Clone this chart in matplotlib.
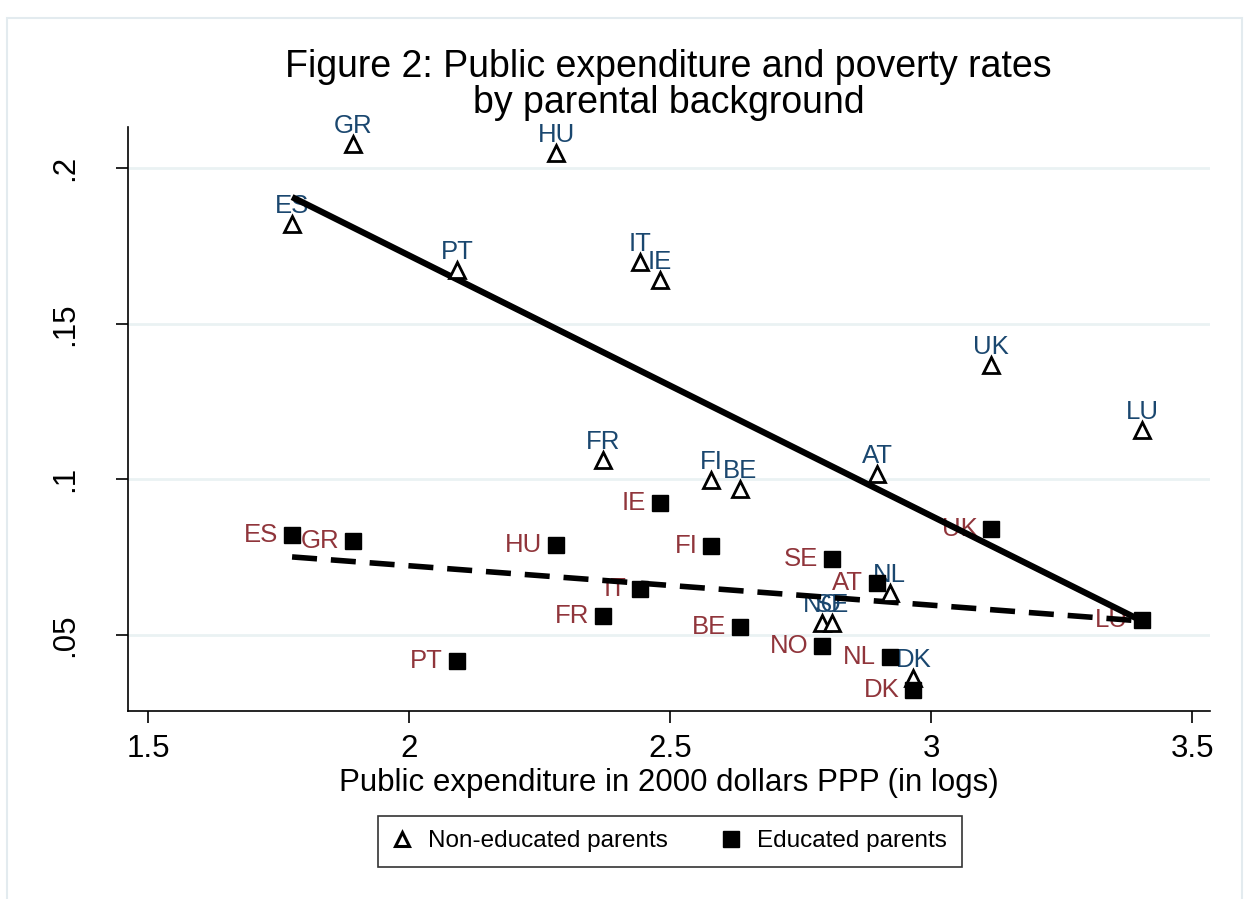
import matplotlib.pyplot as plt
from matplotlib.patches import Rectangle
from matplotlib.lines import Line2D

plt.rcParams['font.family'] = ['Liberation Sans', 'DejaVu Sans']

# country codes
noned_codes = ['GR', 'HU', 'ES', 'PT', 'IT', 'IE', 'UK', 'LU', 'FR', 'FI',
               'BE', 'AT', 'NL', 'NO', 'SE', 'DK']
noned_x = [1.893, 2.282, 1.776, 2.092, 2.443, 2.481, 3.115, 3.404, 2.372,
           2.579, 2.634, 2.897, 2.921, 2.791, 2.810, 2.966]
noned_y = [0.2077, 0.2048, 0.1820, 0.1672, 0.1698, 0.1640, 0.1367, 0.1159,
           0.1062, 0.0998, 0.0969, 0.1017, 0.0635, 0.0539, 0.0539, 0.0362]

edu_codes = ['ES', 'GR', 'HU', 'IE', 'FI', 'SE', 'UK', 'AT', 'IT', 'FR',
             'BE', 'NO', 'PT', 'NL', 'DK', 'LU']
edu_x = [1.776, 1.893, 2.282, 2.481, 2.579, 2.810, 3.115, 2.897, 2.443,
         2.372, 2.634, 2.791, 2.092, 2.921, 2.966, 3.404]
edu_y = [0.0821, 0.0802, 0.0789, 0.0924, 0.0786, 0.0744, 0.0841, 0.0667,
         0.0648, 0.0561, 0.0526, 0.0465, 0.0417, 0.0430, 0.0324, 0.0549]

# fitted lines (endpoints)
fit_x = [1.776, 3.404]
fit_noned = [0.1907, 0.0545]
fit_edu = [0.0751, 0.0545]

yticks = [0.05, 0.1, 0.15, 0.2]
ytick_labels = ['.05', '.1', '.15', '.2']
xticks = [1.5, 2, 2.5, 3, 3.5]
xtick_labels = ['1.5', '2', '2.5', '3', '3.5']

blue = '#1a476f'
maroon = '#90353b'

fig = plt.figure(figsize=(12.45, 8.99), dpi=100)
fig.patches.append(Rectangle((0.0056, -0.02), 0.992, 1.0, transform=fig.transFigure,
                             fill=False, edgecolor='#e3ebef', lw=1.5))

ax = fig.add_axes([0.1028, 0.2091, 0.869, 0.6496])
ax.set_xlim(1.4617, 3.534)
ax.set_ylim(0.0256, 0.2132)

for yt in yticks:
    ax.axhline(yt, color='#eaf2f3', lw=2, zorder=0)

ax.plot(noned_x, noned_y, linestyle='none', marker='^', ms=11, mfc='white',
        mec='black', mew=2, zorder=4)
ax.plot(edu_x, edu_y, linestyle='none', marker='s', ms=11, mfc='black',
        mec='black', zorder=4)

for c, x, y in zip(noned_codes, noned_x, noned_y):
    ax.annotate(c, (x, y), xytext=(0, 8), textcoords='offset points',
                ha='center', va='baseline', fontsize=18.5, color=blue, zorder=2)
for c, x, y in zip(edu_codes, edu_x, edu_y):
    ax.annotate(c, (x, y), xytext=(-10, 0), textcoords='offset points',
                ha='right', va='center', fontsize=18.5, color=maroon, zorder=2)

ax.plot(fit_x, fit_noned, color='black', lw=4.5, solid_capstyle='butt', zorder=3)
ax.plot(fit_x, fit_edu, color='black', lw=4, linestyle=(0, (4.5, 2.5)),
        dash_capstyle='butt', zorder=3)

ax.spines['top'].set_visible(False)
ax.spines['right'].set_visible(False)
ax.spines['left'].set_linewidth(1.2)
ax.spines['bottom'].set_linewidth(1.2)

ax.set_yticks(yticks)
ax.set_yticklabels(ytick_labels, rotation=90, va='center')
ax.set_xticks(xticks)
ax.set_xticklabels(xtick_labels)
ax.tick_params(axis='both', length=8.5, width=1.2, labelsize=22.5)
ax.tick_params(axis='y', pad=26)
ax.tick_params(axis='x', pad=8)

ax.set_xlabel('Public expenditure in 2000 dollars PPP (in logs)', fontsize=22.5,
              labelpad=3)

fig.text(0.537, 0.905, 'Figure 2: Public expenditure and poverty rates\nby parental background',
         ha='center', va='center', fontsize=27, linespacing=1.0)

handles = [Line2D([], [], linestyle='none', marker='^', ms=10, mfc='white',
                  mec='black', mew=2.2),
           Line2D([], [], linestyle='none', marker='s', ms=11, mfc='black',
                  mec='black')]
leg = fig.legend(handles, ['Non-educated parents', 'Educated parents'],
                 loc='center', bbox_to_anchor=(0.538, 0.064), ncol=2,
                 fontsize=17.5, frameon=True, fancybox=False, edgecolor='black',
                 handlelength=0.8, handletextpad=0.67, columnspacing=2.2,
                 borderpad=0.6)
leg.get_frame().set_linewidth(1.2)

fig.savefig('out.png', dpi=100)
